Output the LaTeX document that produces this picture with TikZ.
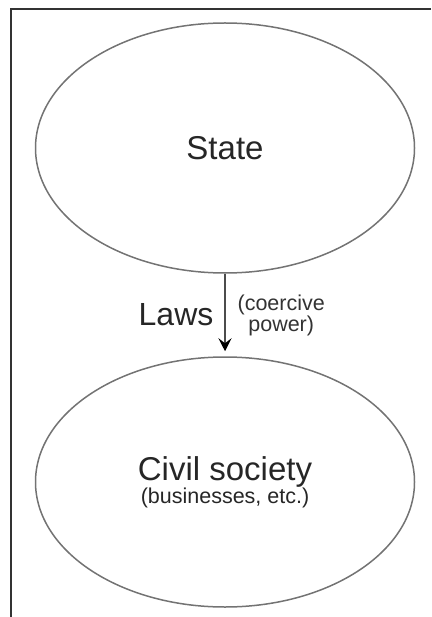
\documentclass[tikz,border=0pt]{standalone}
\usepackage{fontspec}
\setmainfont{Liberation Sans}
\usetikzlibrary{shapes.geometric,arrows.meta}

\begin{document}
\begin{tikzpicture}[x=1pt, y=-1pt,
  sphere/.style={ellipse, draw=black!55, line width=1.5pt,
    minimum width=379pt, minimum height=250pt, inner sep=0pt,
    text=black!85, align=center, font=\fontsize{33}{23}\selectfont},
  lawarrow/.style={draw=black!70, line width=1.2pt, shorten >=5pt,
    -{Stealth[length=13pt, width=13pt, inset=5pt, black]}},
  lawtext/.style={text=black!85, font=\fontsize{32}{34}\selectfont},
  note/.style={text=black!80, align=center, font=\fontsize{21.5}{21}\selectfont}]
\useasboundingbox (0,0) rectangle (431,617);
% page frame (top and left only)
\draw[black!80, line width=2.5pt] (431,9) -- (11,9) -- (11,617);

% the two spheres
\node[sphere] (state) at (225,148) {State};
\node[sphere] (civil) at (225,482)
  {Civil society\\{\fontsize{21.5}{23}\selectfont (businesses, etc.)}};

% laws flow from the state down to civil society
\draw[lawarrow] (state) --
  node[left, lawtext, inner sep=11pt] (laws) {Laws}
  node[right, note, inner sep=12pt] (power) {(coercive\\power)}
  (civil);
\end{tikzpicture}
\end{document}
